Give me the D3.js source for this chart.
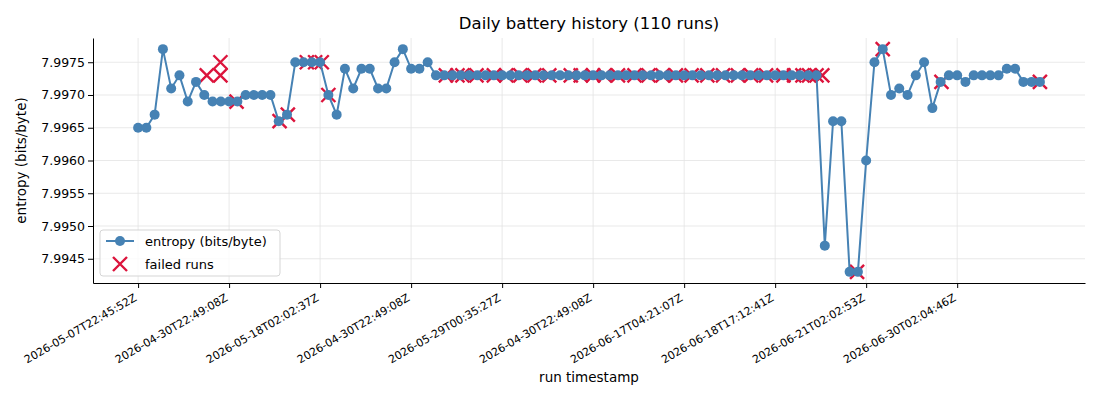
<!DOCTYPE html>
<html>
<head>
<meta charset="utf-8">
<style>
body { margin: 0; background: #fff; }
svg text { font-family: "DejaVu Sans", sans-serif; fill: #000; }
.grid line { stroke: #e3e3e3; stroke-width: 0.8; }
</style>
</head>
<body>
<svg id="chart" width="1100" height="400"></svg>
<script src="https://d3js.org/d3.v7.min.js"></script>
<script>
// entropy per run (run index 0..109)
const entropy = [
  7.9965, 7.9965, 7.9967, 7.9977, 7.9971, 7.9973, 7.9969, 7.9972, 7.9970, 7.9969,
  7.9969, 7.9969, 7.9969, 7.9970, 7.9970, 7.9970, 7.9970, 7.9966, 7.9967, 7.9975,
  7.9975, 7.9975, 7.9975, 7.9970, 7.9967, 7.9974, 7.9971, 7.9974, 7.9974, 7.9971,
  7.9971, 7.9975, 7.9977, 7.9974, 7.9974, 7.9975, 7.9973, 7.9973, 7.9973, 7.9973,
  7.9973, 7.9973, 7.9973, 7.9973, 7.9973, 7.9973, 7.9973, 7.9973, 7.9973, 7.9973,
  7.9973, 7.9973, 7.9973, 7.9973, 7.9973, 7.9973, 7.9973, 7.9973, 7.9973, 7.9973,
  7.9973, 7.9973, 7.9973, 7.9973, 7.9973, 7.9973, 7.9973, 7.9973, 7.9973, 7.9973,
  7.9973, 7.9973, 7.9973, 7.9973, 7.9973, 7.9973, 7.9973, 7.9973, 7.9973, 7.9973,
  7.9973, 7.9973, 7.9973, 7.9947, 7.9966, 7.9966, 7.9943, 7.9943, 7.9960, 7.9975,
  7.9977, 7.9970, 7.9971, 7.9970, 7.9973, 7.9975, 7.9968, 7.9972, 7.9973, 7.9973,
  7.9972, 7.9973, 7.9973, 7.9973, 7.9973, 7.9974, 7.9974, 7.9972, 7.9972, 7.9972
];

// failed runs: position on the run axis and entropy value
const failedPos = [
  8.3, 9.95, 9.95, 11.9, 17.1, 18.1, 20.4, 21.4, 22.2, 23,
  37.2, 38.6, 39.2, 40.9, 43.0, 44.5, 46.2, 47.9, 49.7, 52.3,
  53.5, 55.0, 56.4, 58.0, 60.0, 61.7, 63.4, 65.0, 66.9, 68.8,
  70.7, 72.5, 74.1, 75.9, 78.0, 79.3, 80.3, 81.1, 82.0, 82.7,
  86.9, 90, 97.1, 109
];
const failedVal = [
  7.9973, 7.9975, 7.9973, 7.9969, 7.9966, 7.9967, 7.9975, 7.9975, 7.9975, 7.9970,
  7.9973, 7.9973, 7.9973, 7.9973, 7.9973, 7.9973, 7.9973, 7.9973, 7.9973, 7.9973,
  7.9973, 7.9973, 7.9973, 7.9973, 7.9973, 7.9973, 7.9973, 7.9973, 7.9973, 7.9973,
  7.9973, 7.9973, 7.9973, 7.9973, 7.9973, 7.9973, 7.9973, 7.9973, 7.9973, 7.9973,
  7.9943, 7.9977, 7.9972, 7.9972
];

const tickRuns = [0, 11, 22, 33, 44, 55, 66, 77, 88, 99];
const tickLabels = [
  "2026-05-07T22:45:52Z", "2026-04-30T22:49:08Z", "2026-05-18T02:02:37Z",
  "2026-04-30T22:49:08Z", "2026-05-29T00:35:27Z", "2026-04-30T22:49:08Z",
  "2026-06-17T04:21:07Z", "2026-06-18T17:12:41Z", "2026-06-21T02:02:53Z",
  "2026-06-30T02:04:46Z"
];
const yTicks = [7.9945, 7.9950, 7.9955, 7.9960, 7.9965, 7.9970, 7.9975];

const svg = d3.select("#chart");
const plotLeft = 93, plotRight = 1085, plotTop = 38, plotBottom = 283;

const n = entropy.length;
const padX = (n - 1) * 0.05;
const x = d3.scaleLinear().domain([-padX, n - 1 + padX]).range([plotLeft, plotRight]);
const yMin = d3.min(entropy), yMax = d3.max(entropy);
const padY = (yMax - yMin) * 0.05;
const y = d3.scaleLinear().domain([yMin - padY, yMax + padY]).range([plotBottom, plotTop]);

// grid
const grid = svg.append("g").attr("class", "grid");
grid.selectAll("line.gx").data(tickRuns).enter().append("line")
    .attr("x1", d => x(d)).attr("x2", d => x(d))
    .attr("y1", plotTop).attr("y2", plotBottom);
grid.selectAll("line.gy").data(yTicks).enter().append("line")
    .attr("x1", plotLeft).attr("x2", plotRight)
    .attr("y1", d => y(d)).attr("y2", d => y(d));

// axes
const xAxis = svg.append("g")
    .attr("transform", `translate(0,${plotBottom})`)
    .call(d3.axisBottom(x).tickValues(tickRuns).tickFormat((d, i) => tickLabels[i]).tickSize(5).tickSizeOuter(0));
xAxis.select(".domain").attr("stroke", "#000");
xAxis.selectAll("text")
    .attr("font-size", "11px")
    .attr("text-anchor", "end")
    .attr("dy", null)
    .attr("y", 0)
    .attr("transform", "translate(-1,17) rotate(-30)");

const yAxis = svg.append("g")
    .attr("transform", `translate(${plotLeft},0)`)
    .call(d3.axisLeft(y).tickValues(yTicks).tickFormat(d3.format(".4f")).tickSize(5).tickSizeOuter(0));
yAxis.select(".domain").attr("stroke", "#000");
yAxis.selectAll("text").attr("font-size", "12.5px").attr("x", -8);

// failed runs (drawn under the line)
const crossSize = 7;
const failed = svg.append("g");
failedPos.forEach((p, i) => {
  const cx = x(p), cy = y(failedVal[i]);
  failed.append("path")
    .attr("d", `M${cx - crossSize},${cy - crossSize}L${cx + crossSize},${cy + crossSize}M${cx - crossSize},${cy + crossSize}L${cx + crossSize},${cy - crossSize}`)
    .attr("stroke", "crimson").attr("stroke-width", 2.4).attr("fill", "none");
});

// entropy line
svg.append("path")
    .datum(entropy)
    .attr("fill", "none")
    .attr("stroke", "steelblue")
    .attr("stroke-width", 2)
    .attr("d", d3.line().x((d, i) => x(i)).y(d => y(d)));

svg.selectAll("circle.run").data(entropy).enter().append("circle")
    .attr("class", "run")
    .attr("cx", (d, i) => x(i)).attr("cy", d => y(d))
    .attr("r", 5).attr("fill", "steelblue");

// title and labels
svg.append("text").attr("x", (plotLeft + plotRight) / 2).attr("y", 29)
    .attr("text-anchor", "middle").attr("font-size", "16.5px")
    .text("Daily battery history (110 runs)");
svg.append("text").attr("x", (plotLeft + plotRight) / 2).attr("y", 382)
    .attr("text-anchor", "middle").attr("font-size", "13.5px")
    .text("run timestamp");
svg.append("text")
    .attr("transform", `translate(26,${(plotTop + plotBottom) / 2}) rotate(-90)`)
    .attr("text-anchor", "middle").attr("font-size", "13.5px")
    .text("entropy (bits/byte)");

// legend
const lg = svg.append("g").attr("transform", "translate(100,230)");
lg.append("rect").attr("width", 180).attr("height", 46).attr("rx", 3)
    .attr("fill", "#fff").attr("fill-opacity", 0.8).attr("stroke", "#d5d5d5");
lg.append("line").attr("x1", 6).attr("x2", 34).attr("y1", 11).attr("y2", 11)
    .attr("stroke", "steelblue").attr("stroke-width", 2);
lg.append("circle").attr("cx", 20).attr("cy", 11).attr("r", 5).attr("fill", "steelblue");
lg.append("path").attr("d", `M${20 - crossSize},${34 - crossSize}L${20 + crossSize},${34 + crossSize}M${20 - crossSize},${34 + crossSize}L${20 + crossSize},${34 - crossSize}`)
    .attr("stroke", "crimson").attr("stroke-width", 2.4);
lg.append("text").attr("x", 45).attr("y", 16).attr("font-size", "13px").text("entropy (bits/byte)");
lg.append("text").attr("x", 45).attr("y", 39).attr("font-size", "13px").text("failed runs");
</script>
</body>
</html>
